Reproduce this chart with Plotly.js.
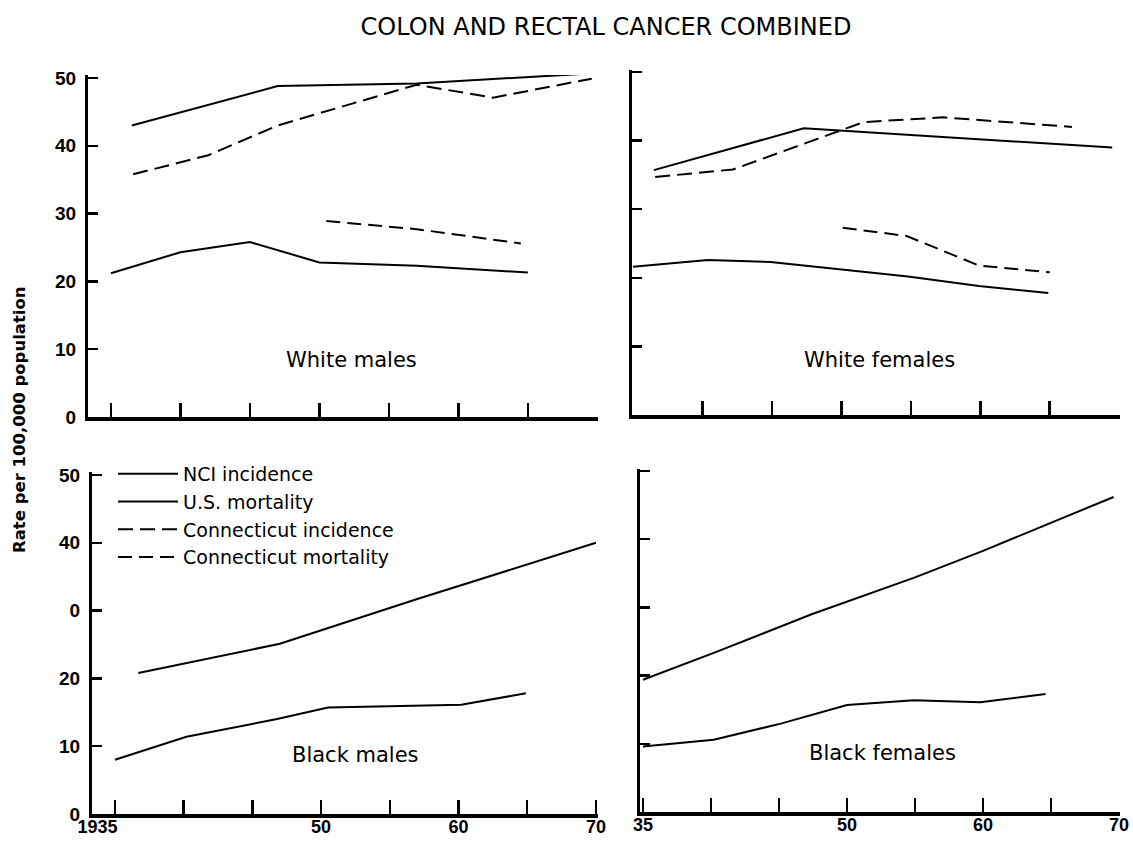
<!DOCTYPE html>
<html><head><meta charset="utf-8">
<script src="https://cdn.plot.ly/plotly-3.0.1.min.js"></script>
<style>html,body{margin:0;padding:0;background:#fff}#chart{width:1133px;height:842px}</style>
</head><body><div id="chart"></div>
<script>
// ---------- DATA (years, rate per 100,000) ----------
const seriesNames = ["NCI incidence", "U.S. mortality", "Connecticut incidence", "Connecticut mortality"];
const panelLabels = ["White males", "White females", "Black males", "Black females"];
const tickYears = [1935, 1940, 1945, 1950, 1955, 1960, 1965, 1970];
const leftYearLabels = ["1935\u00a0\u00a0\u00a0\u00a0\u00a0\u00a0\u00a0", "", "", "50", "", "60", "", "70"];
const rightYearLabels = ["35", "", "", "50", "", "60", "", "70"];
const rateTicks = [0, 10, 20, 30, 40, 50];
const topRateLabels = ["0", "10", "20", "30", "40", "50"];
const bottomRateLabels = ["0", "10", "20", "0", "40", "50"];

// White males
const wmNciYears = [1936.5, 1947, 1957, 1969.8];
const wmNciRate  = [43.0, 48.8, 49.2, 50.7];
const wmUsmYears = [1935, 1940, 1945, 1950, 1957, 1965];
const wmUsmRate  = [21.2, 24.3, 25.8, 22.8, 22.3, 21.3];
const wmCtiYears = [1936.6, 1942, 1947, 1957, 1962.5, 1969.6];
const wmCtiRate  = [35.8, 38.6, 43.0, 49.0, 47.1, 49.9];
const wmCtmYears = [1950.5, 1957, 1964.5];
const wmCtmRate  = [28.9, 27.7, 25.6];

// White females
const wfNciYears = [1936.5, 1947.3, 1969.5];
const wfNciRate  = [35.7, 41.8, 39.0];
const wfUsmYears = [1935, 1940.4, 1944.9, 1949.8, 1954.8, 1959.9, 1964.9];
const wfUsmRate  = [21.6, 22.6, 22.3, 21.3, 20.2, 18.8, 17.8];
const wfCtiYears = [1936.6, 1942.2, 1951.6, 1957.3, 1966.6];
const wfCtiRate  = [34.7, 35.8, 42.7, 43.4, 42.0];
const wfCtmYears = [1950.1, 1954.7, 1959.9, 1965];
const wfCtmRate  = [27.3, 26.1, 21.8, 20.8];

// Black males
const bmNciYears = [1936.7, 1947, 1957, 1970];
const bmNciRate  = [20.8, 25.1, 31.7, 40.0];
const bmUsmYears = [1935, 1940.2, 1946.8, 1950.5, 1960.2, 1964.9];
const bmUsmRate  = [8.0, 11.4, 14.0, 15.7, 16.1, 17.8];

// Black females
const bfNciYears = [1935, 1940.3, 1947.4, 1955, 1960, 1964.4, 1969.6];
const bfNciRate  = [19.4, 23.4, 29.0, 34.4, 38.3, 41.9, 46.2];
const bfUsmYears = [1935, 1940.2, 1945.2, 1950, 1954.9, 1959.8, 1964.6];
const bfUsmRate  = [9.6, 10.6, 13.0, 15.7, 16.4, 16.1, 17.3];

// ---------- LAYOUT HELPERS ----------
const W = 1133, H = 842;
const px = x => x / W;
const py = y => 1 - y / H;
const FONT = "Liberation Sans, Arial, sans-serif";
const WIDE = "DejaVu Sans, sans-serif";

const solid = {color: "#000", width: 2};
const dashInc = {color: "#000", width: 2, dash: "15px,7px"};
const dashMort = {color: "#000", width: 2, dash: "14px,7px"};

function tr(x, y, name, line, xa, ya, legend) {
  return {x: x, y: y, name: name, type: "scatter", mode: "lines", line: line,
          xaxis: xa, yaxis: ya, showlegend: !!legend, hoverinfo: "x+y+name"};
}

const data = [
  tr(wmNciYears, wmNciRate, seriesNames[0], solid, "x", "y", true),
  tr(wmUsmYears, wmUsmRate, seriesNames[1], solid, "x", "y", true),
  tr(wmCtiYears, wmCtiRate, seriesNames[2], dashInc, "x", "y", true),
  tr(wmCtmYears, wmCtmRate, seriesNames[3], dashMort, "x", "y", true),
  tr(wfNciYears, wfNciRate, seriesNames[0], solid, "x2", "y2"),
  tr(wfUsmYears, wfUsmRate, seriesNames[1], solid, "x2", "y2"),
  tr(wfCtiYears, wfCtiRate, seriesNames[2], dashInc, "x2", "y2"),
  tr(wfCtmYears, wfCtmRate, seriesNames[3], dashMort, "x2", "y2"),
  tr(bmNciYears, bmNciRate, seriesNames[0], solid, "x3", "y3"),
  tr(bmUsmYears, bmUsmRate, seriesNames[1], solid, "x3", "y3"),
  tr(bfNciYears, bfNciRate, seriesNames[0], solid, "x4", "y4"),
  tr(bfUsmYears, bfUsmRate, seriesNames[1], solid, "x4", "y4")
];

function xAxis(domPx, range, anchor, labels) {
  return {domain: [px(domPx[0]), px(domPx[1])], range: range, anchor: anchor,
    tickmode: "array", tickvals: tickYears, ticktext: labels || tickYears.map(() => ""),
    showticklabels: !!labels, ticks: "inside", ticklen: 14, tickwidth: 2.5, tickcolor: "#000",
    showline: true, linewidth: 3.5, linecolor: "#000", showgrid: false, zeroline: false,
    ticklabelstandoff: -6,
    tickfont: {family: FONT, size: 18, color: "#000", weight: "bold"}, fixedrange: true};
}
function yAxis(domPx, range, anchor, labels) {
  return {domain: [py(domPx[0]), py(domPx[1])], range: range, anchor: anchor,
    tickmode: "array", tickvals: rateTicks, ticktext: labels || rateTicks.map(() => ""),
    showticklabels: !!labels, ticks: "inside", ticklen: 10, tickwidth: 2.5, tickcolor: "#000",
    showline: true, linewidth: 3, linecolor: "#000", showgrid: false, zeroline: false,
    ticklabelstandoff: 5,
    tickfont: {family: FONT, size: 19, color: "#000", weight: "bold"}, fixedrange: true};
}

function label(text, x, y) {
  return {text: text, xref: "paper", yref: "paper", x: px(x), y: py(y),
          xanchor: "center", yanchor: "middle",
          showarrow: false, font: {family: WIDE, size: 21, color: "#000"}};
}

const layout = {
  width: W, height: H,
  margin: {l: 0, r: 0, t: 0, b: 0},
  paper_bgcolor: "#fff", plot_bgcolor: "rgba(0,0,0,0)",
  title: {text: "COLON AND RECTAL CANCER COMBINED", x: px(606), xanchor: "center",
          y: py(27), yanchor: "middle", font: {family: WIDE, size: 24, color: "#000"}},
  xaxis:  xAxis([88, 598], [1933.35, 1970.05], "y"),
  yaxis:  yAxis([417, 75], [0, 50.44], "x", topRateLabels),
  xaxis2: xAxis([632, 1120], [1934.93, 1970.06], "y2"),
  yaxis2: yAxis([415, 70], [0, 50.3], "x2"),
  xaxis3: xAxis([92, 598], [1933.33, 1970.15], "y3", leftYearLabels),
  yaxis3: yAxis([814, 472], [0, 50.44], "x3", bottomRateLabels),
  xaxis4: xAxis([640, 1120], [1934.78, 1970.07], "y4", rightYearLabels),
  yaxis4: yAxis([812, 469], [0, 50.3], "x4"),
  showlegend: true,
  legend: {x: px(113), y: py(455), xanchor: "left", yanchor: "top",
           bgcolor: "rgba(0,0,0,0)", borderwidth: 0, itemwidth: 60,
           font: {family: WIDE, size: 19, color: "#000"}, tracegroupgap: 0},
  annotations: [
    label(panelLabels[0], 351, 360),
    label(panelLabels[1], 879, 360),
    label(panelLabels[2], 355, 755),
    label(panelLabels[3], 882, 753),
    {text: "Rate per 100,000 population", xref: "paper", yref: "paper",
     x: px(19), y: py(420), xanchor: "center", yanchor: "middle", textangle: -90, showarrow: false,
     font: {family: WIDE, size: 16.5, color: "#000", weight: "bold"}}
  ]
};

Plotly.newPlot("chart", data, layout, {displayModeBar: false, staticPlot: true});
</script></body></html>
